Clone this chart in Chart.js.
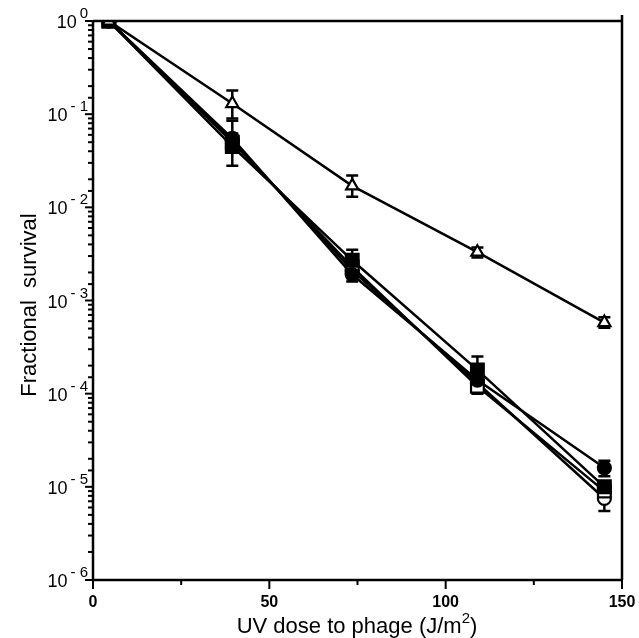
<!DOCTYPE html>
<html>
<head>
<meta charset="utf-8">
<script src="https://cdn.jsdelivr.net/npm/chart.js@4.4.0/dist/chart.umd.min.js"></script>
<style>
  html, body { margin: 0; background: #fff; }
  #wrap { width: 639px; height: 638px; }
</style>
</head>
<body>
<div id="wrap"><canvas id="survival"></canvas></div>
<script>
// ================================
// DATA
// ================================
const doses = [4.5, 39.5, 73.5, 109, 145];
const xLabelTicks = [0, 50, 100, 150];
const yExponents = [0, -1, -2, -3, -4, -5, -6];

const triangleOpen = [1, 0.13, 0.017, 0.0033, 0.00058];
const triangleLo   = [null, 0.09, 0.013, 0.0029, 0.00051];
const triangleHi   = [null, 0.18, 0.022, 0.0037, 0.00066];

const squareFilled = [1, 0.045, 0.0027, 0.00018, 0.000010];
const squareLo     = [null, 0.028, null, null, null];
const squareHi     = [null, 0.085, 0.0035, 0.00025, null];

const circleFilled = [1, 0.055, 0.0019, 0.00014, 0.000016];
const circleLo     = [null, null, 0.0016, null, 0.000013];
const circleHi     = [null, 0.062, null, null, 0.000019];

const squareOpen   = [1, 0.050, 0.0023, 0.00012, 0.0000090];
const squareOpenLo = [null, null, null, 0.00010, null];
const squareOpenHi = [null, null, null, null, null];

const circleOpen   = [1, 0.052, 0.0021, 0.00013, 0.0000075];
const circleOpenLo = [null, null, null, null, 0.0000055];
const circleOpenHi = [null, null, null, null, null];

// ================================
// HELPERS
// ================================
const FONT = '"Liberation Sans", Arial, sans-serif';

function toPoints(values) {
    return values.map((v, i) => ({ x: doses[i], y: v }));
}

function makeSeries(values, lo, hi, style, fill, radius) {
    return {
        data: toPoints(values),
        errLo: lo,
        errHi: hi,
        borderColor: '#000',
        borderWidth: 2.5,
        pointStyle: style,
        pointRadius: radius,
        pointHoverRadius: radius,
        pointBackgroundColor: fill,
        pointBorderColor: '#000',
        pointBorderWidth: 2.2,
        tension: 0,
        fill: false
    };
}

// ================================
// PLUGIN: error bars, frame, ticks, labels
// ================================
const paperPlugin = {
    id: 'paper',
    beforeDatasetsDraw(chart) {
        const { ctx } = chart;
        const xs = chart.scales.x, ys = chart.scales.y;
        ctx.save();
        ctx.strokeStyle = '#000';
        ctx.lineWidth = 2.5;
        chart.data.datasets.forEach(ds => {
            ds.data.forEach((p, i) => {
                const px = xs.getPixelForValue(p.x);
                const py = ys.getPixelForValue(p.y);
                [ds.errLo[i], ds.errHi[i]].forEach(e => {
                    if (e == null) return;
                    const ey = ys.getPixelForValue(e);
                    ctx.beginPath();
                    ctx.moveTo(px, py);
                    ctx.lineTo(px, ey);
                    ctx.moveTo(px - 6, ey);
                    ctx.lineTo(px + 6, ey);
                    ctx.stroke();
                });
            });
        });
        ctx.restore();
    },
    afterDraw(chart) {
        const { ctx, chartArea: a } = chart;
        const xs = chart.scales.x, ys = chart.scales.y;
        ctx.save();
        ctx.strokeStyle = '#000';
        ctx.fillStyle = '#000';
        ctx.lineWidth = 2.5;

        // frame
        ctx.beginPath();
        ctx.moveTo(a.left, a.top);
        ctx.lineTo(a.left, a.bottom);
        ctx.lineTo(a.right, a.bottom);
        ctx.moveTo(a.right, a.bottom);
        ctx.lineTo(a.right, a.top - 6);
        ctx.moveTo(a.left, a.top);
        ctx.lineTo(a.right, a.top);
        ctx.stroke();

        // x ticks
        ctx.lineWidth = 2;
        xs.ticks.forEach(t => {
            const x = xs.getPixelForValue(t.value);
            const len = t.value % 50 === 0 ? 9 : 5;
            ctx.beginPath();
            ctx.moveTo(x, a.bottom);
            ctx.lineTo(x, a.bottom + len);
            ctx.stroke();
        });

        // y ticks
        ys.ticks.forEach(t => {
            const y = ys.getPixelForValue(t.value);
            const lg = Math.log10(t.value);
            const major = Math.abs(lg - Math.round(lg)) < 1e-9;
            ctx.beginPath();
            ctx.moveTo(a.left, y);
            ctx.lineTo(a.left - (major ? 8 : 5), y);
            ctx.stroke();
        });

        // y labels with superscript exponent
        yExponents.forEach(e => {
            const y = ys.getPixelForValue(Math.pow(10, e));
            const expText = e === 0 ? '0' : '- ' + Math.abs(e);
            ctx.textBaseline = 'alphabetic';
            ctx.textAlign = 'right';
            ctx.font = '15px ' + FONT;
            const rx = a.left - 5;
            ctx.fillText(expText, rx, y - 3);
            const w = ctx.measureText(expText).width;
            ctx.font = '18px ' + FONT;
            ctx.fillText('10', rx - w - 3, y + 7);
        });

        // axis titles
        ctx.font = '22px ' + FONT;
        ctx.textAlign = 'center';
        ctx.textBaseline = 'middle';
        ctx.save();
        ctx.translate(30, 305);
        ctx.rotate(-Math.PI / 2);
        ctx.fillText('Fractional  survival', 0, 0);
        ctx.restore();

        const main = 'UV dose to phage (J/m';
        ctx.textBaseline = 'alphabetic';
        ctx.textAlign = 'left';
        ctx.font = '22px ' + FONT;
        const wMain = ctx.measureText(main).width;
        ctx.font = '15px ' + FONT;
        const wSup = ctx.measureText('2').width;
        ctx.font = '22px ' + FONT;
        const wEnd = ctx.measureText(')').width;
        let sx = 357 - (wMain + wSup + wEnd) / 2;
        const base = 633;
        ctx.fillText(main, sx, base);
        sx += wMain;
        ctx.font = '15px ' + FONT;
        ctx.fillText('2', sx, base - 10);
        sx += wSup;
        ctx.font = '22px ' + FONT;
        ctx.fillText(')', sx, base);

        ctx.restore();
    }
};

// ================================
// CHART
// ================================
const canvas = document.getElementById('survival');

new Chart(canvas, {
    type: 'line',
    data: {
        datasets: [
            makeSeries(triangleOpen, triangleLo, triangleHi, 'triangle', '#fff', 7),
            makeSeries(squareFilled, squareLo, squareHi, 'rect', '#000', 9),
            makeSeries(circleFilled, circleLo, circleHi, 'circle', '#000', 6.5),
            makeSeries(squareOpen, squareOpenLo, squareOpenHi, 'rect', '#fff', 9),
            makeSeries(circleOpen, circleOpenLo, circleOpenHi, 'circle', '#fff', 6.5)
        ]
    },
    options: {
        responsive: true,
        maintainAspectRatio: false,
        animation: false,
        layout: { padding: { top: 21, right: 17, left: 0, bottom: 0 } },
        plugins: {
            legend: { display: false },
            tooltip: { enabled: false }
        },
        scales: {
            x: {
                type: 'linear',
                min: 0,
                max: 150,
                grid: { display: false, drawTicks: false },
                border: { display: false },
                ticks: {
                    stepSize: 25,
                    autoSkip: false,
                    maxRotation: 0,
                    padding: 13,
                    color: '#000',
                    font: { size: 16, family: FONT, weight: 'bold' },
                    callback: v => xLabelTicks.includes(v) ? String(v) : ''
                },
                afterFit: s => {
                    s.height = 58;
                    s.paddingLeft = 0;
                    s.paddingRight = 0;
                }
            },
            y: {
                type: 'logarithmic',
                min: 1e-6,
                max: 1,
                grid: { display: false, drawTicks: false },
                border: { display: false },
                ticks: { display: false },
                afterFit: s => { s.width = 93; }
            }
        }
    },
    plugins: [paperPlugin]
});
</script>
</body>
</html>
